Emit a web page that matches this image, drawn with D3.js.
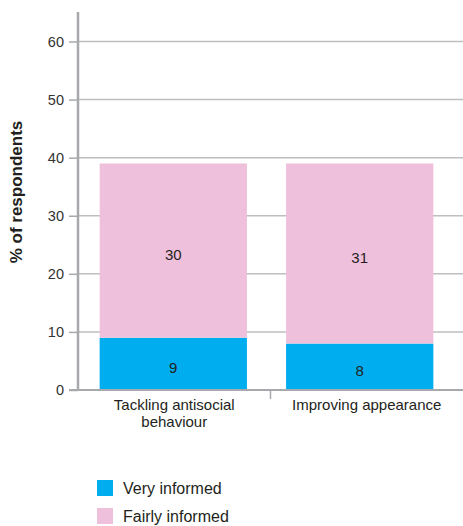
<!DOCTYPE html>
<html>
<head>
<meta charset="utf-8">
<script src="https://cdn.jsdelivr.net/npm/d3@7"></script>
<style>
  html, body { margin: 0; padding: 0; background: #fff; }
  svg { display: block; font-family: "Liberation Sans", Arial, sans-serif; }
</style>
</head>
<body>
<svg id="chart" width="463" height="526"></svg>
<script>
// Share of respondents who felt informed, by topic
const categories = [["Tackling antisocial", "behaviour"], ["Improving appearance"]];
const categoryKeys = ["Tackling antisocial behaviour", "Improving appearance"];
const veryInformed = [9, 8];
const fairlyInformed = [30, 31];
const seriesNames = ["Very informed", "Fairly informed"];
const yTicks = [0, 10, 20, 30, 40, 50, 60];

const colors = ["#00aeef", "#efc0dc"];
const axisGrey = "#a7a9ac";
const textColor = "#231f20";

const svg = d3.select("#chart");
const plot = { left: 78, right: 463, top: 41.5, bottom: 390 };

const y = d3.scaleLinear().domain([0, 60]).range([plot.bottom, plot.top]);
// bars sit in their own band scale; axis labels use the full-width category bands
const x = d3.scaleBand().domain(categoryKeys).range([81, 452]).paddingInner(0.21).paddingOuter(0.1);
const xAxisBand = d3.scaleBand().domain(categoryKeys).range([plot.left, plot.right]);

// Gridlines
svg.append("g")
  .selectAll("line")
  .data(yTicks.filter(d => d > 0))
  .join("line")
  .attr("x1", plot.left).attr("x2", plot.right)
  .attr("y1", d => y(d)).attr("y2", d => y(d))
  .attr("stroke", "#bcbec0").attr("stroke-width", 1.5);

// Stacked bars
const rows = categoryKeys.map((k, i) => ({ key: k, very: veryInformed[i], fairly: fairlyInformed[i] }));
const stack = d3.stack().keys(["very", "fairly"])(rows);

const layers = svg.append("g").selectAll("g")
  .data(stack)
  .join("g")
  .attr("fill", (d, i) => colors[i]);

layers.selectAll("rect")
  .data(d => d)
  .join("rect")
  .attr("x", d => x(d.data.key))
  .attr("width", x.bandwidth())
  .attr("y", d => y(d[1]))
  .attr("height", d => y(d[0]) - y(d[1]));

// Segment value labels
layers.selectAll("text")
  .data(d => d)
  .join("text")
  .attr("x", d => x(d.data.key) + x.bandwidth() / 2)
  .attr("y", d => y((d[0] + d[1]) / 2) + 9)
  .attr("text-anchor", "middle")
  .attr("fill", textColor)
  .attr("font-size", 15)
  .text(d => d[1] - d[0]);

// Y axis
const yAxis = d3.axisLeft(y).tickValues(yTicks).tickSize(9).tickPadding(5);
const yg = svg.append("g").attr("transform", `translate(${plot.left},0)`).call(yAxis);
yg.select(".domain").remove();
yg.selectAll(".tick line").attr("stroke", axisGrey).attr("stroke-width", 1.5);
yg.selectAll(".tick text")
  .attr("font-family", "Liberation Sans, Arial, sans-serif")
  .attr("font-size", 14.5).attr("fill", "#333");
svg.append("line")
  .attr("x1", plot.left).attr("x2", plot.left)
  .attr("y1", 12).attr("y2", plot.bottom + 1)
  .attr("stroke", axisGrey).attr("stroke-width", 2.5);

// X axis baseline and divider between categories
svg.append("line")
  .attr("x1", 69).attr("x2", plot.right)
  .attr("y1", plot.bottom).attr("y2", plot.bottom)
  .attr("stroke", axisGrey).attr("stroke-width", 2);
const divX = xAxisBand(categoryKeys[1]);
svg.append("line")
  .attr("x1", divX).attr("x2", divX)
  .attr("y1", plot.bottom).attr("y2", plot.bottom + 9)
  .attr("stroke", axisGrey).attr("stroke-width", 1.5);

// Category labels
svg.append("g").selectAll("text")
  .data(categoryKeys)
  .join("text")
  .attr("x", d => xAxisBand(d) + xAxisBand.bandwidth() / 2)
  .attr("y", 410)
  .attr("text-anchor", "middle")
  .attr("fill", textColor)
  .attr("font-size", 15)
  .each(function(d, i) {
    d3.select(this).selectAll("tspan")
      .data(categories[i])
      .join("tspan")
      .attr("x", xAxisBand(d) + xAxisBand.bandwidth() / 2)
      .attr("dy", (t, j) => j === 0 ? 0 : 17)
      .text(t => t);
  });

// Y axis title
svg.append("text")
  .attr("transform", "translate(22,192) rotate(-90)")
  .attr("text-anchor", "middle")
  .attr("font-weight", "bold")
  .attr("font-size", 17)
  .attr("fill", textColor)
  .text("% of respondents");

// Legend
const legend = svg.append("g").selectAll("g")
  .data(seriesNames)
  .join("g")
  .attr("transform", (d, i) => `translate(97,${480 + i * 28})`);
legend.append("rect")
  .attr("width", 16).attr("height", 16)
  .attr("fill", (d, i) => colors[i]);
legend.append("text")
  .attr("x", 26).attr("y", 14)
  .attr("font-size", 16)
  .attr("fill", textColor)
  .text(d => d);
</script>
</body>
</html>
